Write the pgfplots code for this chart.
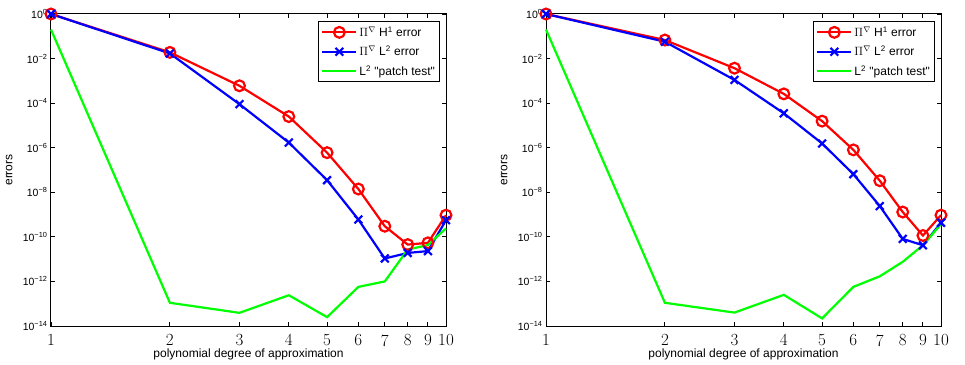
\documentclass[border=0pt]{standalone}
\usepackage{fontspec}
\newfontfamily\arial{Liberation Sans}
\usepackage{pgfplots}
\pgfplotsset{compat=1.18}
\pgfplotsset{
  myax/.style={
    scale only axis, width=395pt, height=312pt,
    anchor=south west,
    xmin=1, xmax=10, ymin=1e-14, ymax=1,
    xtick={1,2,3,4,5,6,7,8,9,10},
    xticklabels={1,2,3,4,5,6,7,8,9,10},
    ytick={1e-14,1e-12,1e-10,1e-8,1e-6,1e-4,1e-2,1},
    yticklabels={10\textsuperscript{−14},10\textsuperscript{−12},10\textsuperscript{−10},10\textsuperscript{−8},10\textsuperscript{−6},10\textsuperscript{−4},10\textsuperscript{−2},10\textsuperscript{0}},
    xminorticks=false, yminorticks=false,
    major tick length=4pt,
    every tick/.style={black, line width=0.9pt},
    axis line style={line width=1pt},
    xticklabel style={font=\fontsize{17}{19}\selectfont, yshift=-5pt},
    yticklabel style={font=\arial\fontsize{10.5}{12}\selectfont},
    xlabel={polynomial degree of approximation},
    ylabel={errors},
    label style={font=\arial\fontsize{12}{14}\selectfont},
    xlabel style={at={(axis description cs:0.5,-0.0897)}, anchor=center},
    ylabel style={at={(axis description cs:-0.106,0.5)}, anchor=center},
    clip=false,
    legend style={font=\arial\fontsize{12}{14}\selectfont, at={(axis description cs:0.986,0.977)}, anchor=north east, draw=black, line width=1pt, inner xsep=3pt, inner ysep=3pt, row sep=4pt},
    legend cell align=left,
    legend image code/.code={\draw[mark repeat=2,mark phase=2] plot coordinates {(0pt,0pt) (17pt,0pt) (34pt,0pt)};},
  },
  rser/.style={red, line width=2.2pt, mark=o, mark size=5.4pt},
  bser/.style={blue, line width=2.2pt, mark=x, mark size=5.5pt},
  gser/.style={green, line width=2.2pt},
}
\begin{document}
\begin{tikzpicture}
\useasboundingbox (0,0) rectangle (965pt,364pt);
\begin{loglogaxis}[myax, at={(51pt,38pt)}]
\addplot[rser] coordinates {(1,1)(2,1.9e-2)(3,6e-4)(4,2.5e-5)(5,6e-7)(6,1.4e-8)(7,3e-10)(8,4.5e-11)(9,5.4e-11)(10,9.4e-10)};
\addlegendentry{$\Pi^{\nabla}$ H\textsuperscript{1} error}
\addplot[bser] coordinates {(1,1)(2,1.7e-2)(3,9e-5)(4,1.7e-6)(5,3.5e-8)(6,6e-10)(7,1.07e-11)(8,1.9e-11)(9,2.3e-11)(10,5.6e-10)};
\addlegendentry{$\Pi^{\nabla}$ L\textsuperscript{2} error}
\addplot[gser] coordinates {(1,0.2)(2,1.1e-13)(3,3.9e-14)(4,2.4e-13)(5,2.5e-14)(6,5.7e-13)(7,1.0e-12)(8,2.7e-11)(9,4.3e-11)(10,2.4e-10)};
\addlegendentry{L\textsuperscript{2} "patch test"}
\end{loglogaxis}
\begin{loglogaxis}[myax, at={(546pt,38pt)}]
\addplot[rser] coordinates {(1,1)(2,6.8e-2)(3,3.7e-3)(4,2.6e-4)(5,1.56e-5)(6,8e-7)(7,3.3e-8)(8,1.3e-9)(9,1.15e-10)(10,9.4e-10)};
\addlegendentry{$\Pi^{\nabla}$ H\textsuperscript{1} error}
\addplot[bser] coordinates {(1,1)(2,5.7e-2)(3,1.1e-3)(4,3.5e-5)(5,1.55e-6)(6,6.5e-8)(7,2.4e-9)(8,8.1e-11)(9,4.2e-11)(10,4.3e-10)};
\addlegendentry{$\Pi^{\nabla}$ L\textsuperscript{2} error}
\addplot[gser] coordinates {(1,0.2)(2,1.1e-13)(3,4e-14)(4,2.5e-13)(5,2.2e-14)(6,5.7e-13)(7,1.7e-12)(8,7.6e-12)(9,4.2e-11)(10,3.7e-10)};
\addlegendentry{L\textsuperscript{2} "patch test"}
\end{loglogaxis}
\end{tikzpicture}
\end{document}
